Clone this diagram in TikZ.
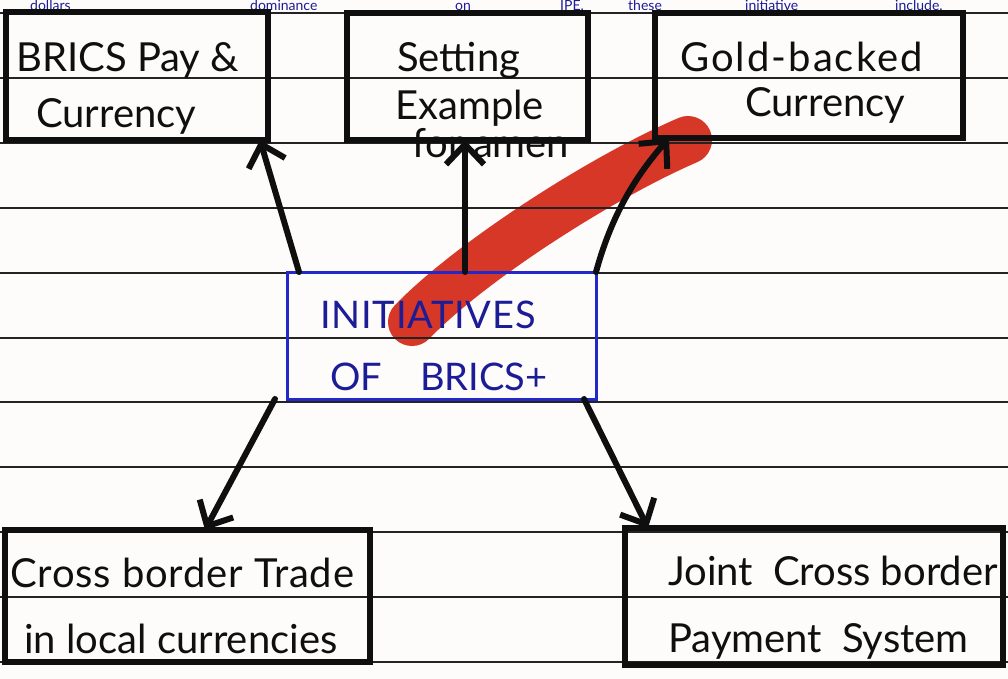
\documentclass[tikz,border=0pt]{standalone}
\usepackage{fontspec}
\setmainfont{Lato}
\usetikzlibrary{arrows.meta}
\definecolor{paper}{RGB}{253,252,251}
\definecolor{ruleink}{RGB}{35,35,35}
\definecolor{ink}{RGB}{15,15,15}
\definecolor{bluepen}{RGB}{28,28,150}
\definecolor{blueline}{RGB}{35,40,200}
\definecolor{marker}{RGB}{215,55,38}
\tikzset{
  ruled/.style={draw=ruleink,line width=2pt},
  inkbox/.style={draw=ink,line width=6.5pt,outer sep=0pt,inner sep=0pt},
  bluebox/.style={draw=blueline,line width=3pt,outer sep=0pt,inner sep=0pt},
  hand/.style={text=ink,font=\fontsize{40}{44}\selectfont,inner sep=0pt},
  bluehand/.style={text=bluepen,font=\fontsize{38}{42}\selectfont,inner sep=0pt},
  topword/.style={text=bluepen,font=\fontsize{14}{16}\selectfont,inner sep=0pt,anchor=base west},
  link/.style={draw=ink,line width=6pt,line cap=round,-{Straight Barb[length=20pt,width=38pt]}},
}
\begin{document}
\begin{tikzpicture}[x=1pt,y=-1pt]
\useasboundingbox (0,0) rectangle (1008,679);
\clip (0,0) rectangle (1008,679);
\fill[paper] (0,0) rectangle (1008,679);

% highlighter stroke under the ruling
\draw[marker,line width=48pt,line cap=round] (412,322) .. controls (470,262) and (600,178) .. (688,140);

% ruled paper
\foreach \k in {0,...,10}
  \draw[ruled] (0,{13+64.9*\k}) -- (1008,{13+64.9*\k});

% tail of the previous line of notes
\node[topword] (w1) at (30,11) {dollars};
\node[topword] (w2) at (250,11) {dominance};
\node[topword] (w3) at (455,11) {on};
\node[topword] (w4) at (560,11) {IPE,};
\node[topword] (w5) at (628,11) {these};
\node[topword] (w6) at (745,11) {initiative};
\node[topword] (w7) at (895,11) {include.};

% boxes
\node[inkbox,minimum width=262pt,minimum height=128pt] (brics) at (137,76) {};
\node[inkbox,minimum width=241pt,minimum height=127pt] (setting) at (467.5,76.5) {};
\node[inkbox,minimum width=308pt,minimum height=125pt] (gold) at (809,75.5) {};
\node[bluebox,minimum width=309pt,minimum height=127pt] (init) at (441.5,335.5) {};
\node[inkbox,minimum width=365pt,minimum height=132pt] (trade) at (187.5,596) {};
\node[inkbox,minimum width=378pt,minimum height=137pt] (joint) at (814,596.5) {};

% box texts
\node[hand,anchor=base west] (t1a) at (16,72) {BRICS Pay \&};
\node[hand,anchor=base west] (t1b) at (36,128) {Currency};
\node[hand,anchor=base west] (t2a) at (397,72) {Setting};
\node[hand,anchor=base west] (t2b) at (395,120) {Example};
\node[hand,anchor=base west] (t2c) at (412,158) {for amen};
\node[hand,anchor=base west] (t3a) at (680,72) {\addfontfeature{LetterSpace=5}Gold-backed};
\node[hand,anchor=base west] (t3b) at (745,117) {Currency};
\node[bluehand,anchor=base west] (t4a) at (320,328) {\addfontfeature{LetterSpace=2}INITIATIVES};
\node[bluehand,anchor=base west] (t4b) at (330,390) {OF\quad BRICS+};
\node[hand,anchor=base west] (t5a) at (10,587) {\addfontfeature{LetterSpace=2}Cross border Trade};
\node[hand,anchor=base west] (t5b) at (24,653) {in local currencies};
\node[hand,anchor=base west] (t6a) at (668,585) {Joint\enspace Cross border};
\node[hand,anchor=base west] (t6b) at (668,652) {Payment\enspace System};

% arrows out of the central box
\draw[link] ([xshift=12pt]init.north west) -- ([xshift=-8pt]brics.south east);
\draw[link] ([xshift=23.5pt]init.north) -- ([xshift=-2.5pt]setting.south);
\draw[link] (init.north east) .. controls +(15,-55) and +(-35,40) .. ([xshift=14pt]gold.south west);
\draw[link] ([xshift=-12pt]init.south west) -- ([xshift=17.5pt]trade.north);
\draw[link] ([xshift=-12pt]init.south east) -- ([xshift=23pt]joint.north west);
\end{tikzpicture}
\end{document}
